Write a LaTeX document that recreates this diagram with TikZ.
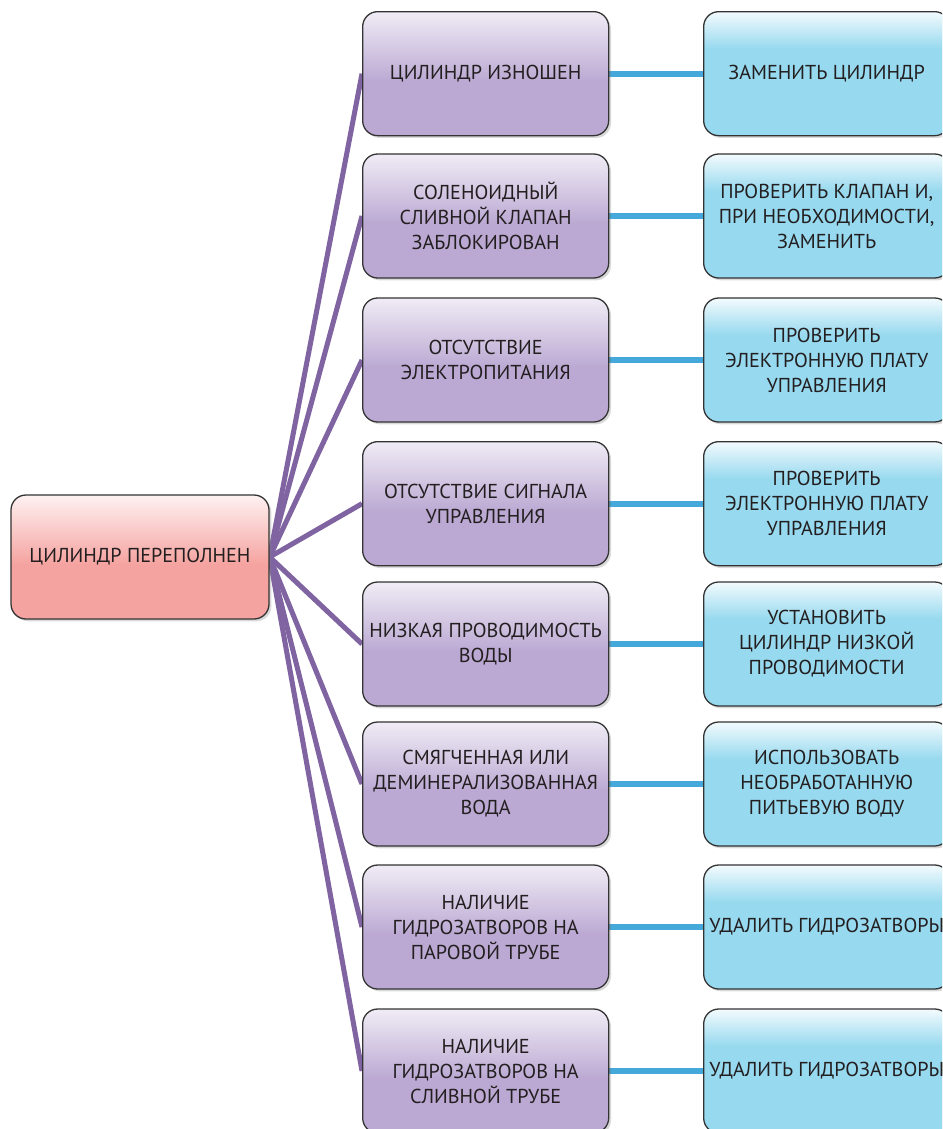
\documentclass[tikz,border=0pt]{standalone}
\usepackage{fontspec}
\setmainfont{PT Sans}
\usepackage{xcolor}
\usepackage{tikz}
\usetikzlibrary{shadows, backgrounds}

\definecolor{causeviolet}{HTML}{BBA9D3}
\definecolor{fixblue}{HTML}{97D9EF}
\definecolor{rootpink}{HTML}{F5A3A0}
\definecolor{linkviolet}{HTML}{8064A2}
\definecolor{linkblue}{HTML}{44A8DA}
\definecolor{inkgrey}{HTML}{231F20}

\pgfdeclareverticalshading{violetfade}{100bp}{color(0bp)=(causeviolet); color(47bp)=(causeviolet); color(75bp)=(causeviolet!22); color(100bp)=(causeviolet!22)}
\pgfdeclareverticalshading{bluefade}{100bp}{color(0bp)=(fixblue); color(60bp)=(fixblue); color(75bp)=(fixblue!12); color(100bp)=(fixblue!12)}
\pgfdeclareverticalshading{pinkfade}{100bp}{color(0bp)=(rootpink); color(47bp)=(rootpink); color(75bp)=(rootpink!15); color(100bp)=(rootpink!15)}

\begin{document}
\begin{tikzpicture}[
    box/.style={rectangle, rounded corners=0.45cm, draw=black!80, line width=1.1pt,
      minimum width=7.38cm, minimum height=3.72cm, inner sep=0pt, align=center,
      text=inkgrey, font=\fontsize{17.2}{21.3}\selectfont,
      drop shadow={shadow xshift=0.07cm, shadow yshift=-0.07cm, opacity=0.3}},
    cause/.style={box, shading=violetfade},
    fix/.style={box, shading=bluefade},
    tocause/.style={draw=linkviolet, line width=4.3pt},
    tofix/.style={draw=linkblue, line width=5.1pt}]
  \useasboundingbox (0,0) rectangle (28.26,-33.87);
  \clip (0,0) rectangle (28.26,-33.87);

  \node[box, shading=pinkfade, minimum width=7.74cm] (full) at (4.2,-16.71) {ЦИЛИНДР ПЕРЕПОЛНЕН};

  % one row: cause, fix and their links
  \def\row#1#2#3#4{
    \node[cause] (c#1) at (14.57,#2) {#3};
    \node[fix]   (f#1) at (24.8,#2)  {#4};
    \begin{scope}[on background layer]
      \draw[tocause] (full.east) -- (c#1.west);
      \draw[tofix] (c#1.east) -- (f#1.west);
    \end{scope}
  }
  \row{1}{-2.21}{ЦИЛИНДР ИЗНОШЕН}{ЗАМЕНИТЬ ЦИЛИНДР}
  \row{2}{-6.48}{СОЛЕНОИДНЫЙ\\СЛИВНОЙ КЛАПАН\\ЗАБЛОКИРОВАН}{ПРОВЕРИТЬ КЛАПАН И,\\ПРИ НЕОБХОДИМОСТИ,\\ЗАМЕНИТЬ}
  \row{3}{-10.80}{ОТСУТСТВИЕ\\ЭЛЕКТРОПИТАНИЯ}{ПРОВЕРИТЬ\\ЭЛЕКТРОННУЮ ПЛАТУ\\УПРАВЛЕНИЯ}
  \row{4}{-15.11}{ОТСУТСТВИЕ СИГНАЛА\\УПРАВЛЕНИЯ}{ПРОВЕРИТЬ\\ЭЛЕКТРОННУЮ ПЛАТУ\\УПРАВЛЕНИЯ}
  \row{5}{-19.32}{НИЗКАЯ ПРОВОДИМОСТЬ\\ВОДЫ}{УСТАНОВИТЬ\\ЦИЛИНДР НИЗКОЙ\\ПРОВОДИМОСТИ}
  \row{6}{-23.52}{СМЯГЧЕННАЯ ИЛИ\\ДЕМИНЕРАЛИЗОВАННАЯ\\ВОДА}{ИСПОЛЬЗОВАТЬ\\НЕОБРАБОТАННУЮ\\ПИТЬЕВУЮ ВОДУ}
  \row{7}{-27.81}{НАЛИЧИЕ\\ГИДРОЗАТВОРОВ НА\\ПАРОВОЙ ТРУБЕ}{УДАЛИТЬ\kern-0.02em{} ГИДРОЗАТВОРЫ}
  \row{8}{-32.13}{НАЛИЧИЕ\\ГИДРОЗАТВОРОВ НА\\СЛИВНОЙ ТРУБЕ}{УДАЛИТЬ\kern-0.02em{} ГИДРОЗАТВОРЫ}
\end{tikzpicture}
\end{document}
